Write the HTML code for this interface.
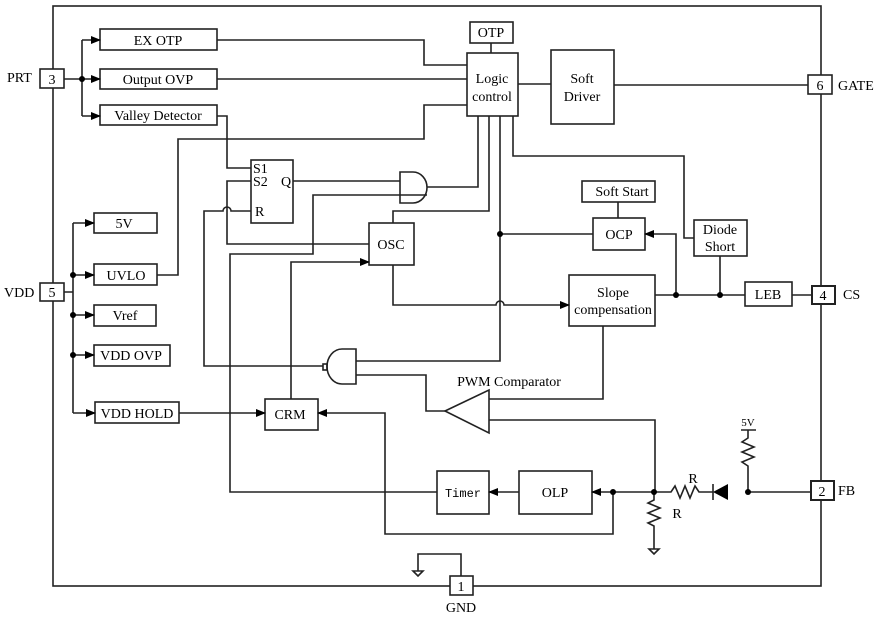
<!DOCTYPE html>
<html><head><meta charset="utf-8"><style>
html,body{margin:0;padding:0;background:#fff;}
svg{display:block;}
text{font-family:"Liberation Serif",serif;font-size:14px;fill:#000;}
</style></head><body>
<svg width="881" height="618" viewBox="0 0 881 618" xmlns="http://www.w3.org/2000/svg">
<defs>
<marker id="a" markerWidth="10" markerHeight="8" refX="9" refY="4" orient="auto" markerUnits="userSpaceOnUse"><path d="M0,0 L10,4 L0,8 Z" fill="#000"/></marker>
</defs>
<g fill="none" stroke="#222" stroke-width="1.6">
<rect x="53" y="6" width="768" height="580"/>
<rect x="40" y="69" width="24" height="19" fill="#fff"/>
<rect x="40" y="283" width="24" height="18" fill="#fff"/>
<rect x="808" y="75" width="24" height="19" fill="#fff"/>
<rect x="812" y="286" width="23" height="18" fill="#fff" stroke-width="2"/>
<rect x="811" y="481" width="23" height="19" fill="#fff" stroke-width="2"/>
<rect x="450" y="576" width="23" height="19" fill="#fff"/>
<rect x="100" y="29" width="117" height="21"/>
<rect x="100" y="69" width="117" height="20"/>
<rect x="100" y="105" width="117" height="20"/>
<rect x="467" y="53" width="51" height="63"/>
<rect x="470" y="22" width="43" height="21"/>
<rect x="551" y="50" width="63" height="74"/>
<rect x="251" y="160" width="42" height="63"/>
<rect x="369" y="223" width="45" height="42"/>
<rect x="593" y="218" width="52" height="32"/>
<rect x="582" y="181" width="73" height="21"/>
<rect x="694" y="220" width="53" height="36"/>
<rect x="569" y="275" width="86" height="51"/>
<rect x="745" y="282" width="47" height="24"/>
<rect x="94" y="213" width="63" height="20"/>
<rect x="94" y="264" width="63" height="21"/>
<rect x="94" y="305" width="62" height="21"/>
<rect x="94" y="345" width="76" height="21"/>
<rect x="95" y="402" width="84" height="21"/>
<rect x="265" y="399" width="53" height="31"/>
<rect x="437" y="471" width="52" height="43"/>
<rect x="519" y="471" width="73" height="43"/>
<path d="M64,79 H82 M82,40 V116"/>
<path d="M82,40 H100" marker-end="url(#a)"/>
<path d="M82,79 H100" marker-end="url(#a)"/>
<path d="M82,116 H100" marker-end="url(#a)"/>
<path d="M217,40 H424 V65 H467"/>
<path d="M217,79 H467"/>
<path d="M217,116 H227 V168 H251"/>
<path d="M467,105 H424 V139 H178 V275 H157"/>
<path d="M491,43 V53"/>
<path d="M518,84 H551"/>
<path d="M614,85 H808"/>
<path d="M293,181 H400"/>
<path d="M400,172 H413 A14,15.5 0 0 1 413,203 H400 Z"/>
<path d="M427,187 H478 V116"/>
<path d="M427,195 H313 V254 H230 V492 H437"/>
<path d="M251,181 H227 V244 H369"/>
<path d="M251,211 H231 A4,4 0 0 0 223,211 H204 V366 H323"/>
<path d="M489,116 V211 H393 V223"/>
<path d="M291,399 V262 H369" marker-end="url(#a)"/>
<path d="M393,265 V305 H496 A4,4 0 0 1 504,305 H569" marker-end="url(#a)"/>
<path d="M500,116 V361 H356"/>
<path d="M513,116 V156 H684 V238 H694"/>
<path d="M618,202 V218"/>
<path d="M593,234 H500"/>
<path d="M676,295 V234 H645" marker-end="url(#a)"/>
<path d="M720,256 V295"/>
<path d="M655,295 H745 M792,295 H812"/>
<path d="M356,349 H342 A15,17.5 0 0 0 342,384 H356 Z"/>
<rect x="323" y="364" width="4" height="6"/>
<path d="M356,375 H426 V411 H445"/>
<path d="M445,411 L489,390 L489,433 Z"/>
<path d="M489,399 H603 V326"/>
<path d="M489,420 H655 V492"/>
<path d="M64,292 H73 M73,223 V413"/>
<path d="M73,223 H94" marker-end="url(#a)"/>
<path d="M73,275 H94" marker-end="url(#a)"/>
<path d="M73,315 H94" marker-end="url(#a)"/>
<path d="M73,355 H94" marker-end="url(#a)"/>
<path d="M73,413 H95" marker-end="url(#a)"/>
<path d="M179,413 H265" marker-end="url(#a)"/>
<path d="M519,492 H489" marker-end="url(#a)"/>
<path d="M654,492 H592" marker-end="url(#a)"/>
<path d="M613,492 V534 H385 V413 H318" marker-end="url(#a)"/>
<path d="M654,492 V500 L648,503 L660,508 L648,513 L660,518 L648,523 L654,526 V549"/>
<path d="M649,549 H659 L654,554 Z"/>
<path d="M654,492 H671 L675,486 L680,498 L685,486 L690,498 L695,486 L699,492 H713"/>
<path d="M713,484 V500"/>
<path d="M748,492 H811"/>
<path d="M748,492 V466 L742,462 L754,457 L742,452 L754,447 L742,442 L748,438 V430 M741,430 H756"/>
<path d="M461,576 V554 H418 V571"/>
<path d="M413,571 H423 L418,576 Z"/>
</g>
<path d="M713,492 L728,484 L728,500 Z" fill="#000"/>
<g fill="#000">
<circle cx="82" cy="79" r="3"/>
<circle cx="73" cy="275" r="3"/><circle cx="73" cy="315" r="3"/><circle cx="73" cy="355" r="3"/>
<circle cx="500" cy="234" r="3"/>
<circle cx="676" cy="295" r="3"/><circle cx="720" cy="295" r="3"/>
<circle cx="613" cy="492" r="3"/><circle cx="654" cy="492" r="3"/><circle cx="748" cy="492" r="3"/>
</g>
<g text-anchor="middle">
<text x="52" y="84">3</text><text x="52" y="297">5</text><text x="820" y="90">6</text>
<text x="823" y="300">4</text><text x="822" y="496">2</text><text x="461" y="591">1</text>
<text x="158" y="45">EX  OTP</text>
<text x="158" y="84">Output OVP</text>
<text x="158" y="120">Valley Detector</text>
<text x="491" y="37">OTP</text>
<text x="492" y="83">Logic</text><text x="492" y="101">control</text>
<text x="582" y="83">Soft</text><text x="582" y="101">Driver</text>
<text x="391" y="249">OSC</text>
<text x="619" y="239">OCP</text>
<text x="622" y="196">Soft Start</text>
<text x="720" y="234">Diode</text><text x="720" y="251">Short</text>
<text x="613" y="297">Slope</text><text x="613" y="314">compensation</text>
<text x="768" y="299">LEB</text>
<text x="124" y="228">5V</text>
<text x="126" y="280">UVLO</text>
<text x="125" y="320">Vref</text>
<text x="131" y="360">VDD OVP</text>
<text x="137" y="418">VDD HOLD</text>
<text x="290" y="419">CRM</text>
<text x="463" y="497" style="font-family:'Liberation Mono',monospace;font-size:12px">Timer</text>
<text x="555" y="497">OLP</text>
<text x="509" y="386">PWM Comparator</text>
<text x="748" y="426" style="font-size:11px">5V</text>
<text x="693" y="483">R</text>
<text x="677" y="518">R</text>
<text x="461" y="612">GND</text>
</g>
<text x="253" y="173">S1</text><text x="253" y="186">S2</text><text x="281" y="186">Q</text><text x="255" y="216">R</text>
<text x="7" y="82">PRT</text><text x="4" y="297">VDD</text>
<text x="838" y="90">GATE</text><text x="843" y="299">CS</text><text x="838" y="495">FB</text>
</svg>
</body></html>
